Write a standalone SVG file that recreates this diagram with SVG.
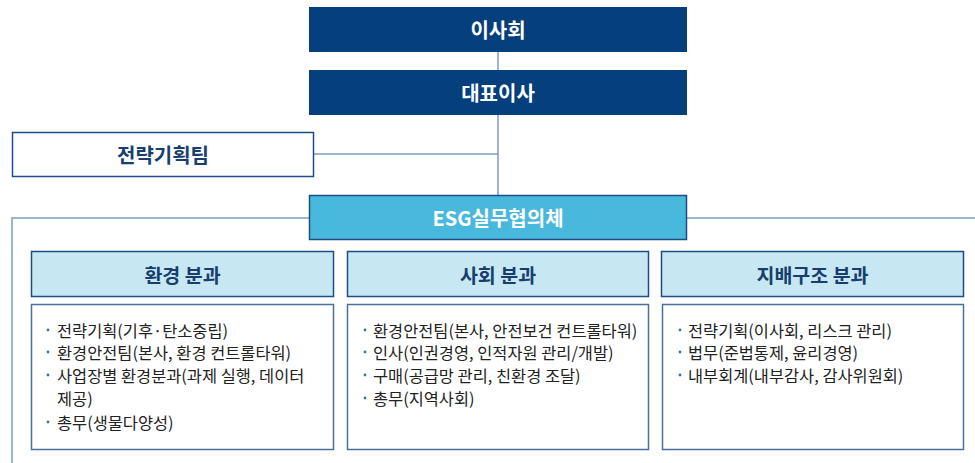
<svg xmlns="http://www.w3.org/2000/svg" width="975" height="463" viewBox="0 0 975 463">
<style>
text{font-family:"Noto Sans CJK KR","Noto Sans",sans-serif}
.navy{fill:#05407d}
.wt{fill:#fff;font-size:20px;font-weight:bold;text-anchor:middle;dominant-baseline:central}
.hd{fill:#c7e8f3;stroke:#1d4d88;stroke-width:1.5}
.ht{fill:#173e6e;font-size:19.5px;font-weight:bold;text-anchor:middle;dominant-baseline:central}
.cb{fill:#fff;stroke:#4a6f9e;stroke-width:1.5}
.li{fill:#222;font-size:16.4px;dominant-baseline:central}
.bu{fill:#2a78b8}
.ln{stroke:#7d9cc4;stroke-width:1.5;fill:none}
</style>
<g id="connectors">
<line class="ln" x1="498" y1="52" x2="498" y2="195"/>
<line class="ln" x1="314" y1="154" x2="498" y2="154"/>
<polyline class="ln" points="309,218 12,218 12,463"/>
<line class="ln" x1="687" y1="218" x2="975" y2="218"/>
</g>
<g id="board"><rect class="navy" x="309" y="7" width="378" height="45"/><text class="wt" x="498" y="29.5">이사회</text></g>
<g id="ceo"><rect class="navy" x="309" y="70" width="378" height="45"/><text class="wt" x="498" y="92.5">대표이사</text></g>
<g id="strategy"><rect x="12.5" y="132.5" width="301" height="44" fill="#fff" stroke="#1d4d88" stroke-width="1.5"/><text class="ht" x="163" y="154.5" style="font-size:20px">전략기획팀</text></g>
<g id="esg"><rect x="309.5" y="195.5" width="377" height="44" fill="#48b8dc" stroke="#1d4d88" stroke-width="1.5"/><text class="wt" x="498" y="217.5">ESG실무협의체</text></g>
<g id="env">
<rect class="hd" x="31.5" y="251.5" width="302" height="45"/><text class="ht" x="182.5" y="274">환경 분과</text>
<rect class="cb" x="31.5" y="304.5" width="302" height="145"/>
<circle class="bu" cx="48" cy="330" r="1.4"/><text class="li" x="57" y="330">전략기획(기후·탄소중립)</text>
<circle class="bu" cx="48" cy="352" r="1.4"/><text class="li" x="57" y="352">환경안전팀(본사, 환경 컨트롤타워)</text>
<circle class="bu" cx="48" cy="375" r="1.4"/><text class="li" x="57" y="375">사업장별 환경분과(과제 실행, 데이터</text>
<text class="li" x="57" y="398">제공)</text>
<circle class="bu" cx="48" cy="422" r="1.4"/><text class="li" x="57" y="422">총무(생물다양성)</text>
</g>
<g id="soc">
<rect class="hd" x="347.5" y="251.5" width="301" height="45"/><text class="ht" x="498" y="274">사회 분과</text>
<rect class="cb" x="347.5" y="304.5" width="301" height="145"/>
<circle class="bu" cx="365" cy="330" r="1.4"/><text class="li" x="373" y="330">환경안전팀(본사, 안전보건 컨트롤타워)</text>
<circle class="bu" cx="365" cy="352" r="1.4"/><text class="li" x="373" y="352">인사(인권경영, 인적자원 관리/개발)</text>
<circle class="bu" cx="365" cy="375" r="1.4"/><text class="li" x="373" y="375">구매(공급망 관리, 친환경 조달)</text>
<circle class="bu" cx="365" cy="398" r="1.4"/><text class="li" x="373" y="398">총무(지역사회)</text>
</g>
<g id="gov">
<rect class="hd" x="661.5" y="251.5" width="302" height="45"/><text class="ht" x="812.5" y="274">지배구조 분과</text>
<rect class="cb" x="662.5" y="304.5" width="301" height="145"/>
<circle class="bu" cx="680" cy="330" r="1.4"/><text class="li" x="688" y="330">전략기획(이사회, 리스크 관리)</text>
<circle class="bu" cx="680" cy="352" r="1.4"/><text class="li" x="688" y="352">법무(준법통제, 윤리경영)</text>
<circle class="bu" cx="680" cy="375" r="1.4"/><text class="li" x="688" y="375">내부회계(내부감사, 감사위원회)</text>
</g>
</svg>
